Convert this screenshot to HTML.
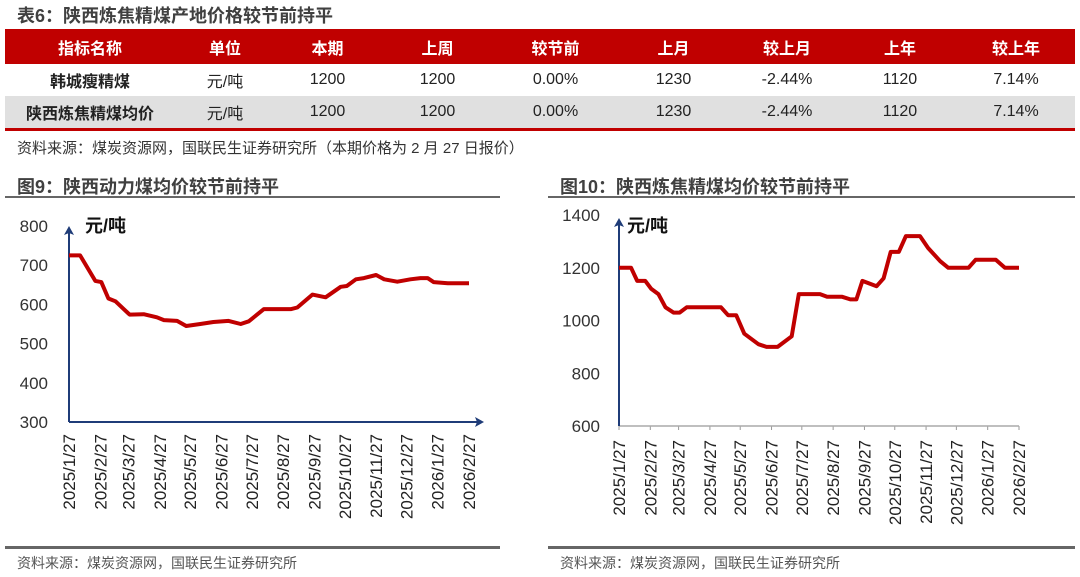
<!DOCTYPE html>
<html><head><meta charset="utf-8">
<style>
body{margin:0;width:1080px;height:577px;background:#fff;font-family:"Liberation Sans","Noto Sans CJK SC",sans-serif;position:relative;overflow:hidden;color:#222}
.abs{position:absolute}
.title{font-weight:bold;font-size:18px;color:#404040}
table{border-collapse:collapse;position:absolute;left:5px;top:29px;width:1070px;font-size:16px;table-layout:fixed}
td,th{text-align:center;padding:0;height:32px}
th{background:#c00000;color:#fff;height:35px}
tr.g td{background:#e0e0e0}
.src{font-size:14px;color:#555}
</style></head><body>
<div class="abs title" style="left:17px;top:2px">表6：陕西炼焦精煤产地价格较节前持平</div>
<table style="border-bottom:3px solid #c00000">
<colgroup><col style="width:170px"><col style="width:100px"><col style="width:105px"><col style="width:115px"><col style="width:121px"><col style="width:115px"><col style="width:112px"><col style="width:114px"><col style="width:118px"></colgroup>
<tr><th>指标名称</th><th>单位</th><th>本期</th><th>上周</th><th>较节前</th><th>上月</th><th>较上月</th><th>上年</th><th>较上年</th></tr>
<tr><td style="font-weight:bold">韩城瘦精煤</td><td>元/吨</td><td>1200</td><td>1200</td><td>0.00%</td><td>1230</td><td>-2.44%</td><td>1120</td><td>7.14%</td></tr>
<tr class="g"><td style="font-weight:bold">陕西炼焦精煤均价</td><td>元/吨</td><td>1200</td><td>1200</td><td>0.00%</td><td>1230</td><td>-2.44%</td><td>1120</td><td>7.14%</td></tr>
</table>
<div class="abs" style="left:17px;top:137px;font-size:15px;color:#333">资料来源：煤炭资源网，国联民生证券研究所（本期价格为 2 月 27 日报价）</div>
<div class="abs title" style="left:17px;top:173px">图9：陕西动力煤均价较节前持平</div>
<div class="abs title" style="left:560px;top:173px">图10：陕西炼焦精煤均价较节前持平</div>
<div class="abs" style="left:5px;top:196px;width:495px;height:2px;background:#666"></div>
<div class="abs" style="left:548px;top:196px;width:527px;height:2px;background:#666"></div>
<div class="abs" style="left:5px;top:546px;width:495px;height:3px;background:#666"></div>
<div class="abs" style="left:548px;top:546px;width:527px;height:3px;background:#666"></div>
<div class="abs src" style="left:17px;top:553px">资料来源：煤炭资源网，国联民生证券研究所</div>
<div class="abs src" style="left:560px;top:553px">资料来源：煤炭资源网，国联民生证券研究所</div>
<svg class="abs" style="left:0;top:0" width="1080" height="577" id="svg"></svg>
<script>
const monthLabels=["2025/1/27","2025/2/27","2025/3/27","2025/4/27","2025/5/27","2025/6/27","2025/7/27","2025/8/27","2025/9/27","2025/10/27","2025/11/27","2025/12/27","2026/1/27","2026/2/27"];
const monthDays=[0,31,59,90,120,151,181,212,243,273,304,334,365,396];
const days1=[0,11,26,32,39,46,60,74,87,94,107,116,130,143,158,170,178,193,220,226,241,254,269,275,284,292,304,312,325,338,348,355,361,375,396];
const vals1=[725,725,660,657,615,608,574,575,567,560,558,545,550,555,558,550,557,588,588,592,625,618,645,647,664,667,675,664,658,664,667,667,657,654,654];
const days2=[0,12,18,26,32,39,46,54,60,67,101,108,116,124,138,146,157,171,178,199,206,221,229,235,241,255,262,269,277,284,298,306,318,326,346,353,373,382,396];
const vals2=[1200,1200,1150,1150,1120,1100,1050,1030,1030,1050,1050,1020,1020,950,910,900,900,940,1100,1100,1090,1090,1080,1080,1150,1130,1160,1260,1260,1320,1320,1275,1225,1200,1200,1230,1230,1200,1200];
const ticks1=[300,400,500,600,700,800];
const ticks2=[600,800,1000,1200,1400];
const svg=document.getElementById('svg');const NS='http://www.w3.org/2000/svg';
function mk(t,a,p){const e=document.createElementNS(NS,t);for(const k in a)e.setAttribute(k,a[k]);(p||svg).appendChild(e);return e;}
function chart(o){
  const g=mk('g',{});
  
  
  const X=d=>o.x0+(o.x1-o.x0)*d/396, Y=v=>o.y1-(o.y1-o.y0)*(v-o.vmin)/(o.vmax-o.vmin);
  o.ticks.forEach(t=>{const e=mk('text',{x:o.lx,y:Y(t)+6,'text-anchor':'end','font-size':17,fill:'#333'},g);e.textContent=t;
    
    });
  monthLabels.forEach((l,i)=>{const x=X(monthDays[i]);
    if(o.tickMarks) mk('line',{x1:x,x2:x,y1:o.y1,y2:o.y1+4,stroke:'#999'},g);
    const e=mk('text',{x:0,y:0,transform:`translate(${x+6},${o.ly}) rotate(-90)`,'text-anchor':'end','font-size':17,fill:'#222'},g);e.textContent=l;
    
    });
  const ax=mk('line',{x1:o.x0,x2:o.xaEnd,y1:o.y1,y2:o.y1,stroke:o.xaColor,'stroke-width':o.xaW},g);
  
  
  if(o.xArrow) mk('path',{d:`M${o.xaEnd+4},${o.y1} l-9,-5 l2,5 l-2,5z`,fill:'#1f3c78'},g);
  const ay=mk('line',{x1:o.x0,x2:o.x0,y1:o.y1,y2:o.ayTop,stroke:'#1f3c78','stroke-width':2},g);
  
  
  mk('path',{d:`M${o.x0},${o.ayTop-4} l-5,9 l5,-2 l5,2z`,fill:'#1f3c78'},g);
  const u=mk('text',{x:o.ux,y:o.uy,'font-size':18,'font-weight':'bold',fill:'#111'},g);u.textContent='元/吨';
  
  
  const pts=o.days.map((d,i)=>X(d).toFixed(1)+','+Y(o.vals[i]).toFixed(1)).join(' ');
  const p=mk('polyline',{points:pts,fill:'none',stroke:'#c00000','stroke-width':4,'stroke-linejoin':'round'},g);
  
  
}
chart({name:'chart9-steam-coal',x0:69,x1:469,y0:226,y1:422,vmin:300,vmax:800,ticks:ticks1,lx:48,ly:434,days:days1,vals:vals1,xaEnd:480,xaColor:'#1f3c78',xaW:2,xArrow:true,ayTop:230,ux:85,uy:232,tickMarks:false});
chart({name:'chart10-coking-coal',x0:619,x1:1019,y0:215,y1:426,vmin:600,vmax:1400,ticks:ticks2,lx:600,ly:440,days:days2,vals:vals2,xaEnd:1019,xaColor:'#aaa',xaW:1.5,xArrow:false,ayTop:222,ux:627,uy:232,tickMarks:true});
</script>
</body></html>
